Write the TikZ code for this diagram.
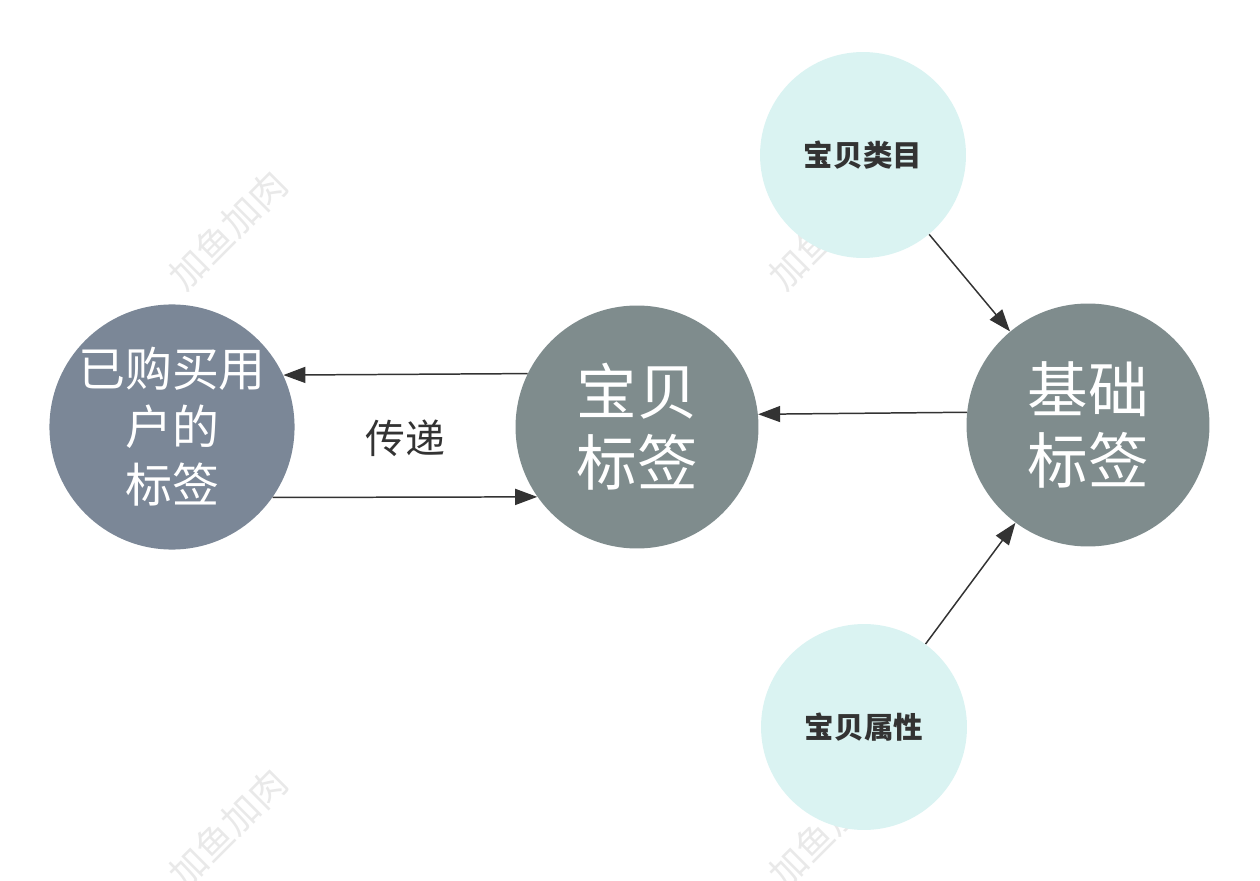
\documentclass[tikz,border=0pt]{standalone}
\usepackage{fontspec}
\newfontfamily\cjk{Noto Sans CJK SC}
\usetikzlibrary{arrows.meta}
\definecolor{slategray}{HTML}{7B8797}
\definecolor{asbestos}{HTML}{7F8C8D}
\definecolor{paleaqua}{HTML}{DAF3F2}
\definecolor{inkgray}{HTML}{333333}
\definecolor{markgray}{HTML}{E9E9E9}

\begin{document}
\begin{tikzpicture}[x=0.02cm, y=-0.02cm, font=\cjk,
  bigtag/.style={circle, inner sep=0pt, minimum size=4.86cm, text=white},
  smalltag/.style={circle, inner sep=0pt, minimum size=4.12cm, fill=paleaqua,
    text=inkgray, font=\cjk\bfseries\fontsize{16.8}{20}\selectfont},
  link/.style={draw=inkgray, line width=0.85pt, -{Triangle[length=0.44cm, width=0.32cm]}},
  wmark/.style={text=markgray, rotate=45, font=\cjk\fontsize{21}{24}\selectfont}]
\useasboundingbox (0,0) rectangle (1260,881);
% watermarks
\node[wmark] (wm1) at (228,230) {加鱼加肉};
\node[wmark] (wm2) at (228,828) {加鱼加肉};
\node[wmark] (wm3) at (828,230) {加鱼加肉};
\node[wmark] (wm4) at (828,828) {加鱼加肉};
% circles
\node[bigtag, fill=slategray, align=center, font=\cjk\fontsize{26.7}{33}\selectfont]
  (buyer) at (172,427) {已购买用\\户的\\标签};
\node[bigtag, fill=asbestos, align=center, font=\cjk\fontsize{34.5}{40.5}\selectfont]
  (item) at (637,427) {宝贝\\标签};
\node[bigtag, fill=asbestos, align=center, font=\cjk\fontsize{34.5}{40.5}\selectfont]
  (base) at (1088,425) {基础\\标签};
\node[smalltag] (cat) at (863,155) {宝贝类目};
\node[smalltag] (attr) at (864,727) {宝贝属性};
\node[text=inkgray, font=\cjk\fontsize{22.7}{26}\selectfont] (pass) at (405,438) {传递};
% arrows
\draw[link] (item.154.5) -- (buyer.25.8);
\draw[link] (buyer.-35) -- (item.-145.3);
\draw[link] (base.174.8) -- (item.6.2);
\draw[link] (cat) -- (base);
\draw[link] (attr) -- (base);
\end{tikzpicture}
\end{document}
